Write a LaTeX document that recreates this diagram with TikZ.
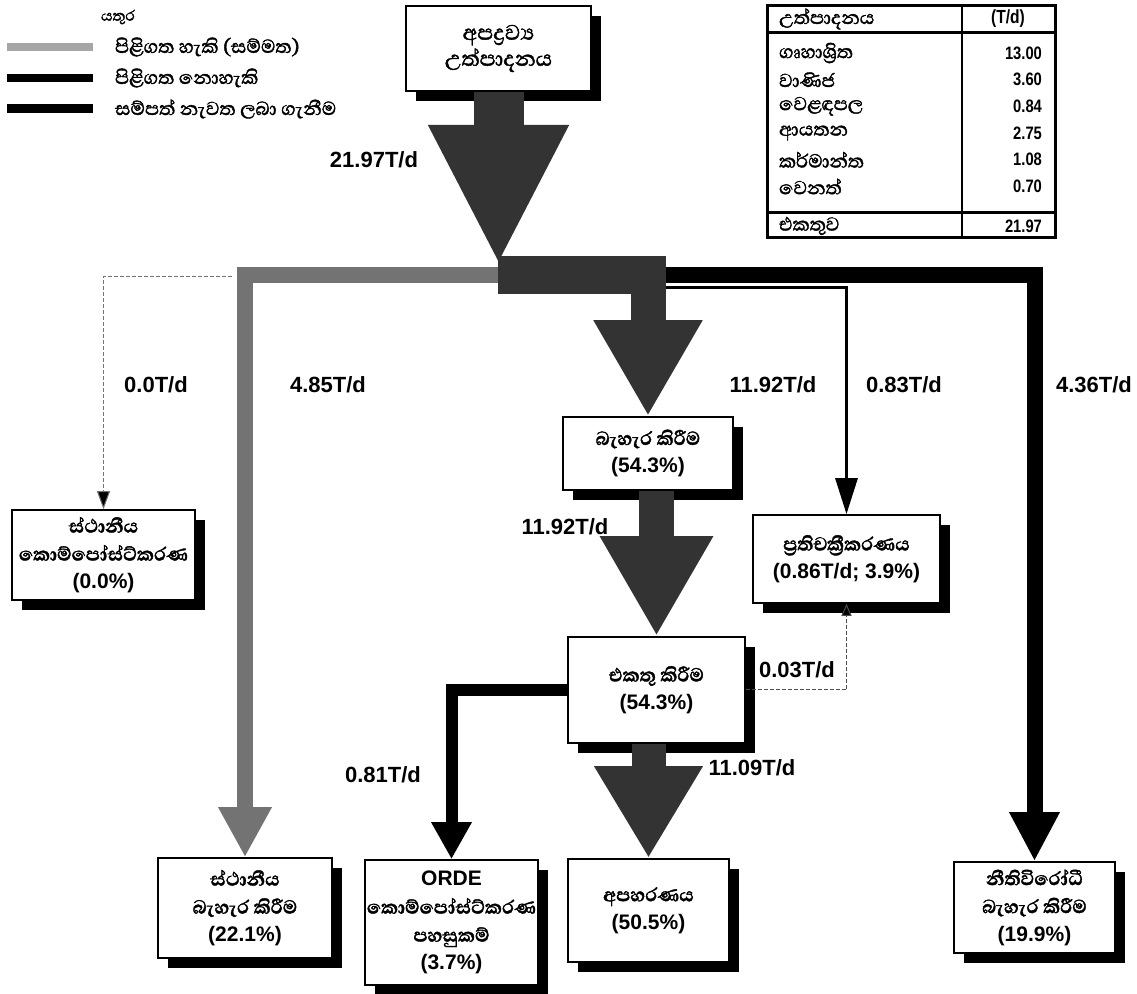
\documentclass[tikz,border=0pt]{standalone}
\usepackage{fontspec}
\setmainfont{Liberation Sans}
\newfontfamily\narrowfont[FakeStretch=0.82]{Liberation Sans}
\newfontfamily\sinfont[Script=Sinhala,FakeBold=1.6]{Abhaya Libre}
\usetikzlibrary{arrows.meta,shadows}

\newcommand\snh[1]{{\sinfont\fontsize{12}{14}\selectfont #1}}

\begin{document}
\begin{tikzpicture}[x=0.5pt,y=-0.5pt,
  box/.style={draw, line width=0.8pt, fill=white, align=center, inner sep=0pt,
    font=\bfseries\fontsize{10.5}{14}\selectfont,
    general shadow={fill=black, shadow xshift=5pt, shadow yshift=-5pt}},
  flowlbl/.style={font=\bfseries\fontsize{11}{12}\selectfont},
  darkflow/.style={draw=black!80, line width=#1},
  grayflow/.style={draw=black!55, line width=#1},
  blackflow/.style={draw=black, line width=#1},
  thinflow/.style={draw=black!55, line width=0.5pt, dash pattern=on 2pt off 1pt},
  legtxt/.style={anchor=west, font=\sinfont\fontsize{12}{14}\selectfont},
  tabtxt/.style={anchor=west, font=\sinfont\fontsize{12}{12}\selectfont},
  tabnum/.style={anchor=east, font=\narrowfont\bfseries\fontsize{9}{10}\selectfont}]
\useasboundingbox (0,0) rectangle (1137,994);

% key
\node[font=\sinfont\fontsize{9.5}{10}\selectfont] (key) at (118,17) {යතුර};
\draw[black!35, line width=4pt] (7,47) -- (93,47);
\node[legtxt] (keyok) at (108,47) {පිළිගත හැකි (සම්මත)};
\draw[black, line width=4pt] (7,78) -- (93,78);
\node[legtxt] (keyno) at (108,78) {පිළිගත නොහැකි};
\draw[black, line width=4.5pt] (7,109) -- (93,109);
\node[legtxt] (keyrec) at (108,109) {සම්පත් නැවත ලබා ගැනීම};

% generation table
\draw[line width=1.5pt] (767,6) rectangle (1055,238);
\draw[line width=1pt] (962,6) -- (962,238);
\draw[line width=1.5pt] (767,33) -- (1055,33);
\draw[line width=1.5pt] (767,213) -- (1055,213);
\node[tabtxt] (hdr) at (772,19) {උත්පාදනය};
\node[font=\narrowfont\bfseries\fontsize{9.5}{10}\selectfont] (unit) at (1008,19) {(T/d)};
\foreach \nm/\val [count=\i] in {ගෘහාශ්^^^^200dරිත/13.00, වාණිජ/3.60, වෙළඳපල/0.84,
    ආයතන/2.75, කර්මාන්ත/1.08, වෙනත්/0.70}{
  \node[tabtxt] (src\i) at (772,26.3+26.7*\i) {\nm};
  \node[tabnum] (val\i) at (1049,26.3+26.7*\i) {\val};
}
\node[tabtxt] (tot) at (772,226) {එකතුව};
\node[tabnum] (totval) at (1049,226) {21.97};

% boxes
\node[box, minimum width=92.5pt, minimum height=42.5pt,
  font=\sinfont\fontsize{13.5}{13}\selectfont] (src) at (498.5,48.5)
  {අපද්^^^^200dරව්^^^^200dය\\උත්පාදනය};
\node[box, minimum width=85pt, minimum height=36.5pt] (disp) at (648,453.5)
  {\snh{බැහැර කිරීම}\\(54.3\%)};
\node[box, minimum width=88.5pt, minimum height=53pt] (coll) at (656.5,690)
  {\snh{එකතු කිරීම}\\(54.3\%)};
\node[box, minimum width=93.5pt, minimum height=44pt] (recy) at (846.5,559)
  {\snh{ප්^^^^200dරතිචක්^^^^200dරීකරණය}\\(0.86T/d; 3.9\%)};
\node[box, minimum width=91.5pt, minimum height=45pt] (home) at (103.5,555)
  {\snh{ස්ථානීය}\\\snh{කොම්පෝස්ට්කරණ}\\(0.0\%)};
\node[box, minimum width=87pt, minimum height=50pt] (local) at (245,908)
  {\snh{ස්ථානීය}\\\snh{බැහැර කිරීම}\\(22.1\%)};
\node[box, minimum width=86.5pt, minimum height=62.5pt] (orde) at (451.5,922.5)
  {ORDE\\\snh{කොම්පෝස්ට්කරණ}\\\snh{පහසුකම්}\\(3.7\%)};
\node[box, minimum width=80.5pt, minimum height=51.5pt] (final) at (648.5,910.5)
  {\snh{අපහරණය}\\(50.5\%)};
\node[box, minimum width=80.5pt, minimum height=45.5pt] (illeg) at (1034.5,907.5)
  {\snh{නීතිවිරෝධී}\\\snh{බැහැර කිරීම}\\(19.9\%)};

% flows
\coordinate (compsplit) at (232,277);
\coordinate (graysplit) at (520,275);
\coordinate (split) at (498.5,265);
\draw[grayflow=8pt, -{Triangle[width=25pt,length=25pt]}] (graysplit) -| (local.north);
\draw[thinflow, -{Triangle[width=6.5pt,length=9pt,fill=black]}] (compsplit) -| (home.north);
\node[fill=black!80, minimum width=84pt, minimum height=19pt, inner sep=0pt] (hub) at (582,275) {};
\coordinate (recsplit) at ([yshift=-6.5pt]hub.east);
\draw[blackflow=8pt, -{Triangle[width=23.5pt,length=24.5pt]}] (hub.east) -| (illeg.north);
\draw[blackflow=1.5pt, -{Triangle[width=11pt,length=18pt]}] (recsplit) -| (recy.north);
\draw[darkflow=25pt, -{Triangle[width=65pt,length=70pt]}] (src.south) -- (split);
\draw[darkflow=17.5pt, -{Triangle[width=51pt,length=48pt]}] (hub.center -| disp.north) -- (disp.north);
\draw[darkflow=17.5pt, -{Triangle[width=53pt,length=50pt]}] (disp.south -| coll.north) -- (coll.north);
\draw[darkflow=17pt, -{Triangle[width=51pt,length=46pt]}] (coll.south -| final.north) -- (final.north);
\draw[blackflow=6pt, -{Triangle[width=19pt,length=18.5pt]}] (coll.west) -| (orde.north);
\draw[thinflow, draw=black!70, -{Triangle[width=5pt,length=6pt,fill=black]}] (coll.east) -| (recy.south);

% flow labels
\node[flowlbl] (f2197) at (374,160) {21.97T/d};
\node[flowlbl] (f00) at (156,385) {0.0T/d};
\node[flowlbl] (f485) at (328,385) {4.85T/d};
\node[flowlbl] (f1192a) at (773,385) {11.92T/d};
\node[flowlbl] (f083) at (904,385) {0.83T/d};
\node[flowlbl] (f436) at (1094,385) {4.36T/d};
\node[flowlbl] (f1192b) at (565,527) {11.92T/d};
\node[flowlbl] (f003) at (797,670) {0.03T/d};
\node[flowlbl] (f081) at (383,775) {0.81T/d};
\node[flowlbl] (f1109) at (752,768) {11.09T/d};
\end{tikzpicture}
\end{document}
